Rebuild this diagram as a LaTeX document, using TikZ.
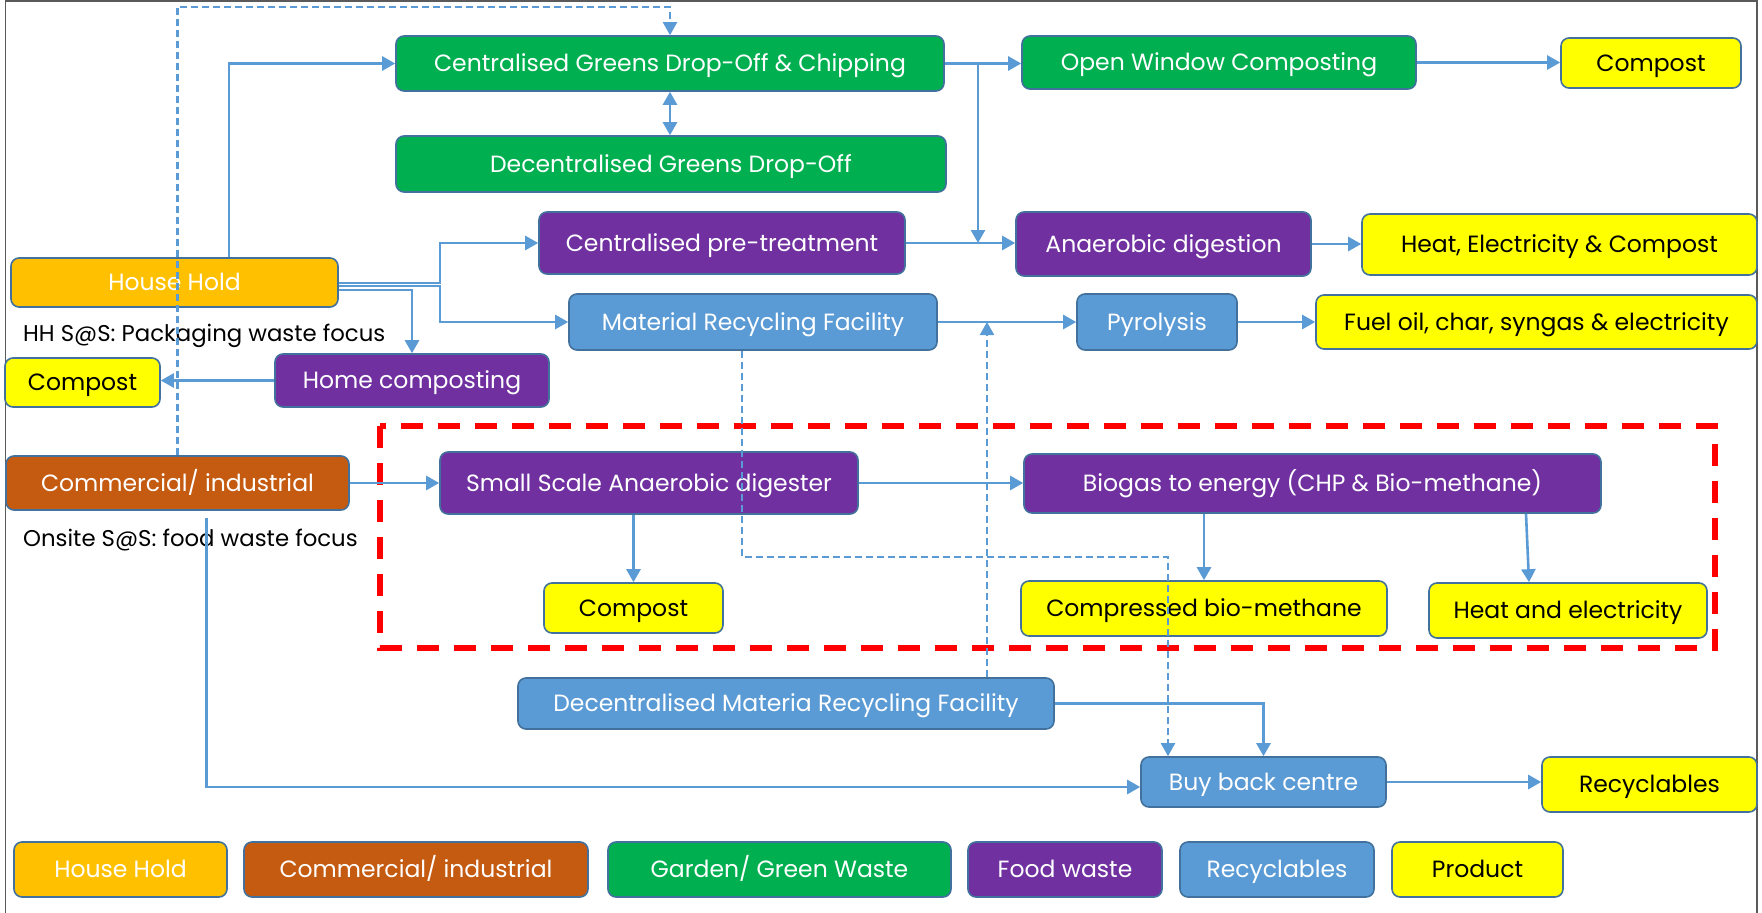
\documentclass[tikz,border=0pt]{standalone}
\usepackage{fontspec}
\setmainfont{Poppins}
\usetikzlibrary{arrows.meta}
\definecolor{cgrn}{HTML}{00B050}
\definecolor{cpur}{HTML}{7030A0}
\definecolor{cblu}{HTML}{5B9BD5}
\definecolor{corg}{HTML}{FFC000}
\definecolor{cbrn}{HTML}{C55A11}
\definecolor{cyel}{HTML}{FFFF00}
\definecolor{cbd}{HTML}{41719C}
\definecolor{cln}{HTML}{5B9BD5}
\definecolor{cfr}{HTML}{5A5A5A}
\tikzset{
  bx/.style={draw=cbd, line width=1.6pt, rounded corners=8pt, inner sep=0pt, align=center,
    font=\fontsize{23.5}{27}\selectfont, text height=21pt, text depth=4.5pt},
  gbx/.style={bx, fill=cgrn, text=white},
  pbx/.style={bx, fill=cpur, text=white},
  bbx/.style={bx, fill=cblu, text=white},
  obx/.style={bx, fill=corg, text=white},
  rbx/.style={bx, fill=cbrn, text=white},
  ybx/.style={bx, fill=cyel, text=black},
  lab/.style={anchor=west, inner sep=0pt, text=black, font=\fontsize{22.8}{27}\selectfont,
    text height=21pt, text depth=4.5pt},
  arr/.style={draw=cln, line width=2.6pt, -{Triangle[length=13pt,width=14pt]}},
  arrb/.style={draw=cln, line width=2.6pt, {Triangle[length=13pt,width=14pt]}-{Triangle[length=13pt,width=14pt]}},
  darr/.style={draw=cln, line width=2.2pt, dash pattern=on 7pt off 4pt, -{Triangle[length=13pt,width=14pt]}},
}
\begin{document}
\begin{tikzpicture}[x=1pt,y=-1pt]
\useasboundingbox (0,0) rectangle (1762,913);
\fill[white] (0,0) rectangle (1762,913);
\draw[cfr, line width=1.5pt] (5.5,930) -- (5.5,1) -- (1757,1) -- (1757,930);

% nodes
\node[gbx, minimum width=548pt, minimum height=55pt] (cgreen) at (670,63.5) {Centralised Greens Drop-Off \& Chipping};
\node[gbx, minimum width=550pt, minimum height=56pt] (dgreen) at (671,164) {Decentralised Greens Drop-Off};
\node[gbx, minimum width=394pt, minimum height=53pt] (owc) at (1219,62.5) {Open Window Composting};
\node[ybx, minimum width=180pt, minimum height=50pt] (comp1) at (1651,63) {Compost};
\node[pbx, minimum width=366pt, minimum height=62pt] (cpre) at (722,243) {Centralised pre-treatment};
\node[pbx, minimum width=295pt, minimum height=64pt] (ad) at (1163.5,244) {Anaerobic digestion};
\node[ybx, minimum width=395pt, minimum height=61pt] (hec) at (1559.5,244.5) {Heat, Electricity \& Compost};
\node[obx, minimum width=327pt, minimum height=49pt] (hh) at (174.5,282.5) {House Hold};
\node[bbx, minimum width=368pt, minimum height=56pt] (mrf) at (753,322) {Material Recycling Facility};
\node[bbx, minimum width=160pt, minimum height=56pt] (pyro) at (1157,322) {Pyrolysis};
\node[ybx, minimum width=441pt, minimum height=54pt] (fuel) at (1536.5,322) {Fuel oil, char, syngas \& electricity};
\node[lab] (hhlab) at (23,333) {HH S@S: Packaging waste focus};
\node[ybx, minimum width=155pt, minimum height=49pt] (comp0) at (82.5,382.5) {Compost};
\node[pbx, minimum width=274pt, minimum height=53pt] (homec) at (412,380.5) {Home composting};
\node[rbx, minimum width=343pt, minimum height=54pt] (ci) at (177.5,483) {Commercial/ industrial};
\node[lab] (cilab) at (23,538) {Onsite S@S: food waste focus};
\node[pbx, minimum width=418pt, minimum height=62pt] (ssad) at (649,483) {Small Scale Anaerobic digester};
\node[pbx, minimum width=577pt, minimum height=59pt] (biogas) at (1312.5,483.5) {Biogas to energy (CHP \& Bio-methane)};
\node[ybx, minimum width=179pt, minimum height=50pt] (comp2) at (633.5,608) {Compost};
\node[ybx, minimum width=366pt, minimum height=55pt] (cbm) at (1204,608.5) {Compressed bio-methane};
\node[ybx, minimum width=278pt, minimum height=55pt] (he) at (1568,610.5) {Heat and electricity};
\node[bbx, minimum width=536pt, minimum height=51pt] (dmrf) at (786,703.5) {Decentralised Materia Recycling Facility};
\node[bbx, minimum width=245pt, minimum height=50pt] (bbc) at (1263.5,782) {Buy back centre};
\node[ybx, minimum width=215pt, minimum height=55pt] (recy) at (1649.5,784.5) {Recyclables};

% legend
\node[obx, minimum width=213pt, minimum height=55pt] (lg1) at (120.5,869.5) {House Hold};
\node[rbx, minimum width=344pt, minimum height=55pt] (lg2) at (416,869.5) {Commercial/ industrial};
\node[gbx, minimum width=343pt, minimum height=55pt] (lg3) at (779.5,869.5) {Garden/ Green Waste};
\node[pbx, minimum width=194pt, minimum height=55pt] (lg4) at (1065,869.5) {Food waste};
\node[bbx, minimum width=194pt, minimum height=55pt] (lg5) at (1277,869.5) {Recyclables};
\node[ybx, minimum width=171pt, minimum height=55pt] (lg6) at (1477.5,869.5) {Product};

% red dashed region
\draw[red, line width=5.5pt, dash pattern=on 22pt off 15pt] (380,426) rectangle (1715,648);

% helper coordinates
\coordinate (ytop) at (0,7);
\coordinate (vx) at (440,0);
\coordinate (b1) at (978,63.5);
\coordinate (b2) at (978,243);
\coordinate (d1) at (1168,556.7);

% connectors
\draw[arr] ([xshift=54.5pt]hh.north) |- (cgreen.west);
\draw[arrb] (cgreen.south) -- (cgreen.south |- dgreen.north);
\draw[darr] (ci.north) |- (cgreen.north |- ytop) -- (cgreen.north);
\draw[arr] (cgreen.east) -- (cgreen.east -| owc.west);
\draw[arr] (b1) -- (b2);
\draw[arr] (cpre.east) -- (cpre.east -| ad.west);
\draw[arr] (ad.east) -- (ad.east -| hec.west);
\draw[arr] (owc.east) -- (owc.east -| comp1.west);
\draw[arr] ([yshift=-0.5pt]hh.east) -| (vx |- cpre.west) -- (cpre.west);
\draw[arr] ([yshift=-3.5pt]hh.east) -| (vx |- mrf.west) -- (mrf.west);
\draw[arr] ([yshift=-7.5pt]hh.east) -| (homec.north);
\draw[arr] (homec.west) -- (homec.west -| comp0.east);
\draw[arr] (mrf.east) -- (pyro.west);
\draw[arr] (pyro.east) -- (pyro.east -| fuel.west);
\draw[darr] ([xshift=201pt]dmrf.north) coordinate (u1) -- (u1 |- mrf.east);
\draw[darr] ([xshift=-11pt]mrf.south) |- (d1) -- ([xshift=-95.5pt]bbc.north);
\draw[arr] (ci.east) -- (ci.east -| ssad.west);
\draw[arr] (ssad.east) -- (ssad.east -| biogas.west);
\draw[arr] (ssad.south -| comp2.north) -- (comp2.north);
\draw[arr] (biogas.south -| cbm.north) -- (cbm.north);
\draw[arr] ([xshift=-42pt]he.north |- biogas.south) -- ([xshift=-39pt]he.north);
\draw[arr] ([xshift=29pt,yshift=-6.7pt]ci.south) |- ([yshift=-5pt]bbc.west);
\draw[arr] (dmrf.east) -| (bbc.north);
\draw[arr] (bbc.east) -- (bbc.east -| recy.west);
\end{tikzpicture}
\end{document}
